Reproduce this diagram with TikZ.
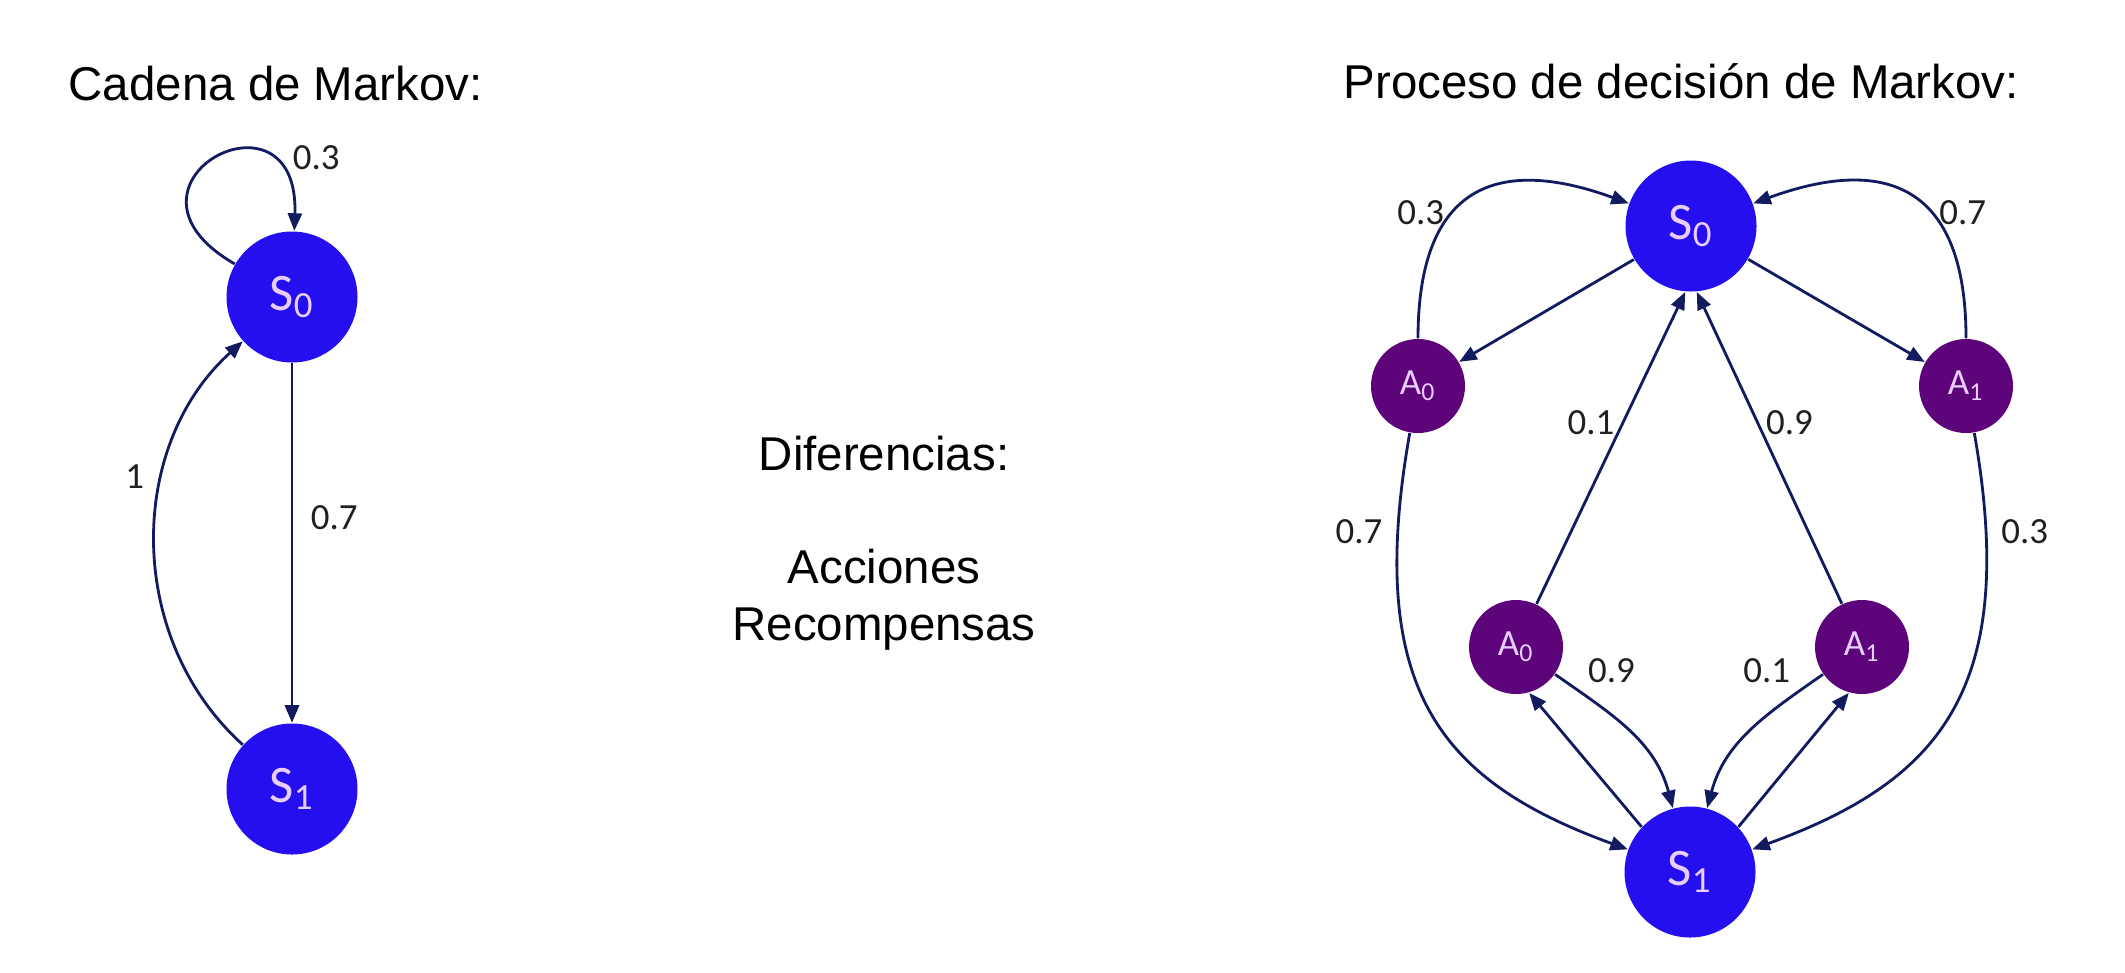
\documentclass[tikz,border=0pt]{standalone}
\usepackage{fontspec}
\setmainfont{Liberation Sans}
\newfontfamily\calfont{Carlito}
\usetikzlibrary{arrows.meta,positioning}
\definecolor{stateblue}{RGB}{38,15,238}
\definecolor{actpurple}{RGB}{94,4,122}
\definecolor{edgenavy}{RGB}{18,26,96}
\definecolor{nodetext}{RGB}{232,205,255}
\definecolor{lbltext}{RGB}{32,32,32}
\tikzset{
  state/.style={circle,fill=stateblue,minimum size=1.31cm,inner sep=0pt,text=nodetext,font=\calfont\fontsize{15}{15}\selectfont},
  act/.style={circle,fill=actpurple,minimum size=0.94cm,inner sep=0pt,text=nodetext,font=\calfont\fontsize{10.5}{10.5}\selectfont},
  tr/.style={draw=edgenavy,line width=0.8pt,-{Triangle[length=5pt,width=4pt]}},
  prob/.style={font=\calfont\fontsize{10.5}{10.5}\selectfont,text=lbltext,inner sep=2pt},
  titulo/.style={font=\fontsize{13.5}{16.2}\selectfont,inner sep=0pt}
}
\begin{document}
\begin{tikzpicture}
  \path[use as bounding box] (0,0) rectangle (21.25,-9.72);

  % titulos
  \node[titulo,anchor=base west] (tcad) at (0.68,-1.00) {Cadena de Markov:};
  \node[titulo,anchor=base west] (tmdp) at (13.43,-0.98) {Proceso de decisión de Markov:};

  % diferencias
  \node[titulo,anchor=base] (dif) at (8.84,-4.70) {Diferencias:};
  \node[titulo,anchor=base] (acc) at (8.84,-5.83) {Acciones};
  \node[titulo,anchor=base] (rec) at (8.84,-6.40) {Recompensas};

  % cadena de Markov
  \node[state] (s0) at (2.92,-2.97) {S\textsubscript{0}};
  \node[state] (s1) at (2.92,-7.89) {S\textsubscript{1}};
  \path (s0) edge[tr,out=150,in=88,out distance=1.6cm,in distance=1.55cm] node[prob,pos=0.85,anchor=south west] {0.3} (s0)
        (s0) edge[tr] node[prob,pos=0.43,right=3pt] {0.7} (s1)
        (s1) edge[tr,bend left=48] node[prob,pos=0.65,left=3pt] {1} (s0);

  % proceso de decision
  \node[state] (m0) at (16.91,-2.26) {S\textsubscript{0}};
  \node[state] (m1) at (16.90,-8.72) {S\textsubscript{1}};
  \node[act] (a0) at (14.18,-3.86) {A\textsubscript{0}};
  \node[act] (a1) at (19.66,-3.86) {A\textsubscript{1}};
  \node[act] (b0) at (15.16,-6.47) {A\textsubscript{0}};
  \node[act] (b1) at (18.62,-6.47) {A\textsubscript{1}};

  \path (m0) edge[tr] (a0)
        (m0) edge[tr] (a1)
        (a0) edge[tr,out=90,in=160,looseness=1.5] node[prob,pos=0.4,left] {0.3} (m0)
        (a1) edge[tr,out=90,in=20,looseness=1.5] node[prob,pos=0.4,right] {0.7} (m0)
        (a0) edge[tr,out=-100,in=160,out distance=2.6cm,in distance=2cm] node[prob,pos=0.14,left=2pt] {0.7} (m1)
        (a1) edge[tr,out=-80,in=20,out distance=2.6cm,in distance=2cm] node[prob,pos=0.14,right=2pt] {0.3} (m1)
        (b0) edge[tr] node[prob,pos=0.58,left] {0.1} (m0.265)
        (b1) edge[tr] node[prob,pos=0.58,right] {0.9} (m0.275)
        (m1.137) edge[tr] (b0.286)
        (m1.43) edge[tr] (b1.254)
        (b0) edge[tr,out=-35,in=105] node[prob,pos=0.15,above right] {0.9} (m1)
        (b1) edge[tr,out=215,in=75] node[prob,pos=0.15,above left] {0.1} (m1);
\end{tikzpicture}
\end{document}
